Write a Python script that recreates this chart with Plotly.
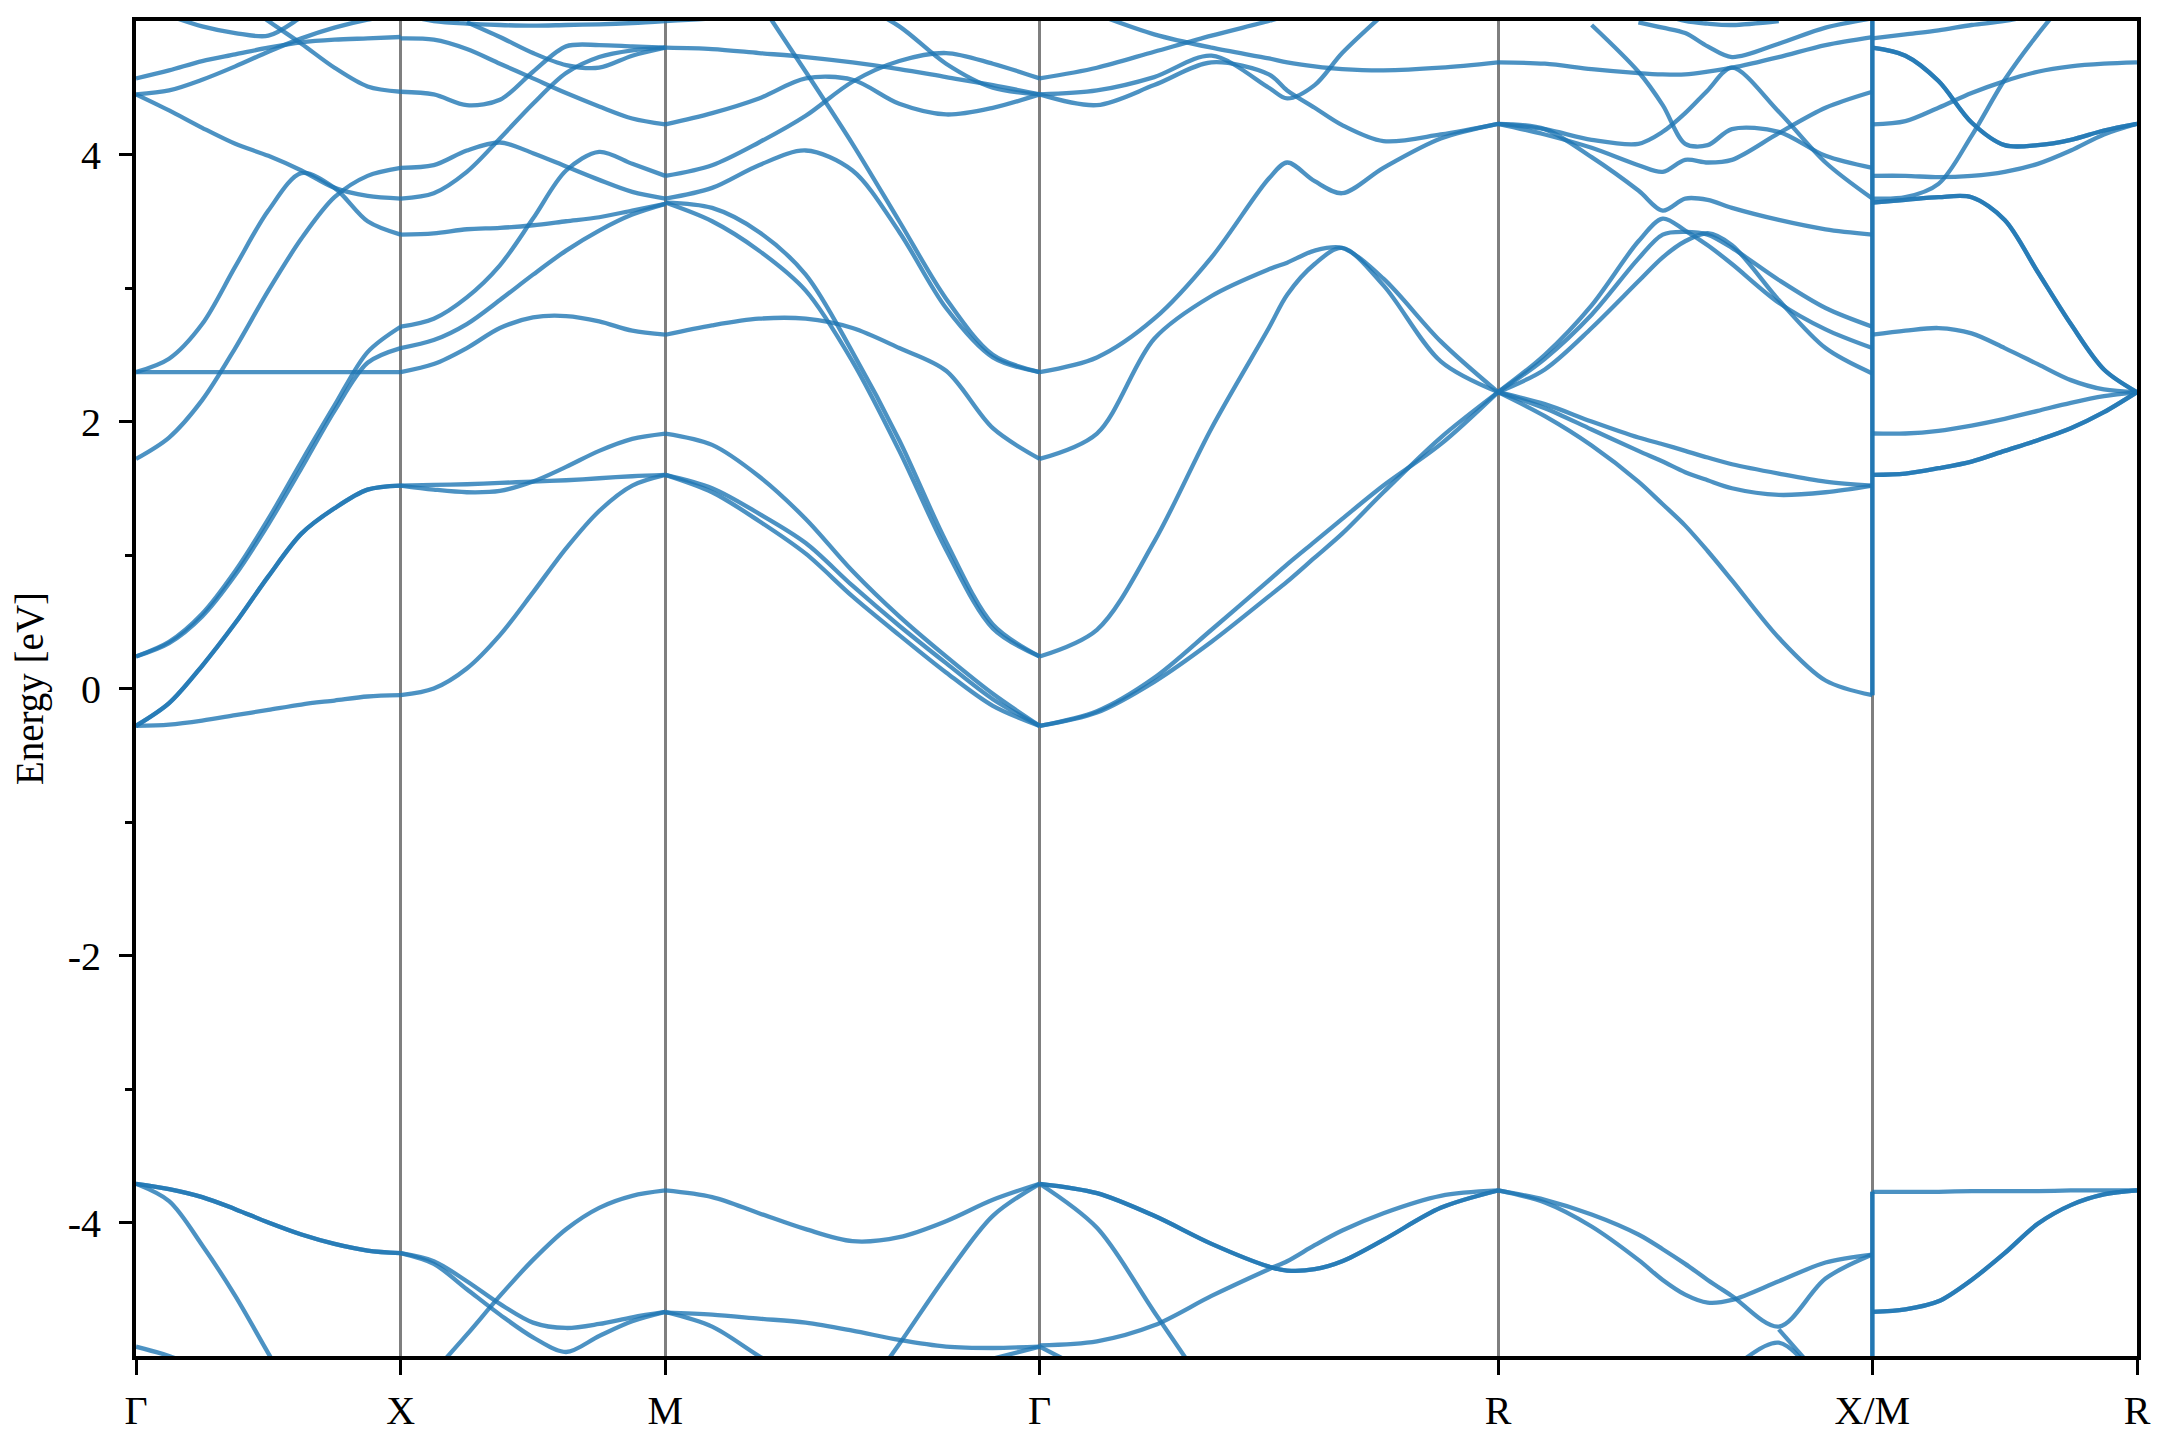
import numpy as np
import plotly.graph_objects as go

# ---------------- data ----------------
kpoint_labels = ["Γ", "X", "M", "Γ", "R", "X/M", "R"]
segment_lengths = [0.5, 0.5, 0.7071, 0.8660, 0.7071, 0.5]

frac9 = [0, 0.125, 0.25, 0.375, 0.5, 0.625, 0.75, 0.875, 1.0]
frac_GR = [0, 0.125, 0.25, 0.375, 0.5, 0.54, 0.6, 0.66, 0.75, 0.875, 1.0]
frac_RX = [0, 0.125, 0.25, 0.375, 0.44, 0.5, 0.56, 0.625, 0.75, 0.875, 1.0]

N = None

bands_GX = [
    [-0.28, -0.27, -0.24, -0.20, -0.16, -0.12, -0.09, -0.06, -0.05],
    [-0.28, -0.11, 0.17, 0.49, 0.84, 1.16, 1.35, 1.49, 1.52],
    [-0.28, -0.11, 0.17, 0.49, 0.84, 1.16, 1.35, 1.49, 1.52],
    [0.24, 0.35, 0.56, 0.88, 1.27, 1.70, 2.12, 2.52, 2.71],
    [0.24, 0.34, 0.54, 0.85, 1.23, 1.65, 2.08, 2.44, 2.55],
    [1.72, 1.88, 2.16, 2.55, 2.98, 3.37, 3.68, 3.84, 3.90],
    [2.37, 2.47, 2.73, 3.16, 3.58, 3.86, 3.75, 3.50, 3.40],
    [2.37, 2.37, 2.37, 2.37, 2.37, 2.37, 2.37, 2.37, 2.37],
    [4.45, 4.33, 4.20, 4.08, 3.99, 3.88, 3.75, 3.69, 3.67],
    [4.57, 4.63, 4.70, 4.75, 4.80, 4.84, 4.86, 4.87, 4.88],
    [4.45, 4.48, 4.56, 4.66, 4.77, 4.87, 4.95, 5.01, 5.05],
    [N, N, 5.45, 5.18, 5.00, 4.83, 4.65, 4.51, 4.47],
    [N, 5.04, 4.96, 4.91, 4.89, 5.03, 5.20, N, N],
    [-3.71, -3.75, -3.81, -3.90, -4.00, -4.09, -4.16, -4.21, -4.23],
    [-3.71, -3.75, -3.81, -3.90, -4.00, -4.09, -4.16, -4.21, -4.23],
    [-3.71, -3.84, -4.17, -4.55, -4.98, -5.40, N, N, N],
    [-4.93, -5.00, -5.10, N, N, N, N, N, N],
]

bands_XM = [
    [-0.05, 0.00, 0.15, 0.40, 0.72, 1.05, 1.33, 1.52, 1.60],
    [1.52, 1.525, 1.53, 1.54, 1.55, 1.56, 1.575, 1.59, 1.60],
    [1.52, 1.49, 1.47, 1.48, 1.55, 1.66, 1.78, 1.87, 1.91],
    [2.37, 2.43, 2.55, 2.70, 2.78, 2.79, 2.75, 2.68, 2.65],
    [2.55, 2.61, 2.73, 2.91, 3.10, 3.28, 3.43, 3.55, 3.63],
    [2.71, 2.77, 2.93, 3.17, 3.52, 3.88, 4.02, 3.93, 3.84],
    [3.40, 3.41, 3.44, 3.45, 3.47, 3.50, 3.53, 3.58, 3.63],
    [3.67, 3.71, 3.87, 4.12, 4.38, 4.61, 4.73, 4.78, 4.80],
    [3.90, 3.92, 4.03, 4.09, 4.01, 3.91, 3.81, 3.72, 3.67],
    [4.47, 4.45, 4.37, 4.41, 4.62, 4.81, 4.82, 4.81, 4.80],
    [4.87, 4.86, 4.79, 4.68, 4.57, 4.46, 4.36, 4.27, 4.225],
    [N, N, 4.99, 4.88, 4.76, 4.67, 4.65, 4.74, 4.80],
    [5.05, 5.00, 4.98, 4.97, 4.965, 4.97, 4.975, 4.985, 5.00],
    [-4.23, -4.29, -4.44, -4.61, -4.75, -4.79, -4.76, -4.71, -4.67],
    [-4.23, -4.31, -4.50, -4.69, -4.86, -4.97, -4.85, -4.74, -4.67],
    [N, -5.12, -4.84, -4.55, -4.28, -4.05, -3.89, -3.80, -3.76],
]

bands_MG = [
    [1.91, 1.825, 1.59, 1.27, 0.88, 0.54, 0.24, -0.04, -0.28],
    [1.60, 1.50, 1.31, 1.09, 0.77, 0.47, 0.19, -0.08, -0.28],
    [1.60, 1.47, 1.255, 1.01, 0.69, 0.40, 0.12, -0.13, -0.28],
    [2.65, 2.72, 2.77, 2.77, 2.70, 2.55, 2.38, 1.95, 1.72],
    [3.64, 3.60, 3.42, 3.10, 2.52, 1.86, 1.10, 0.48, 0.24],
    [3.64, 3.50, 3.28, 2.98, 2.45, 1.78, 1.04, 0.45, 0.24],
    [3.67, 3.75, 3.92, 4.03, 3.88, 3.42, 2.85, 2.48, 2.37],
    [N, N, 5.15, 4.62, 4.08, 3.50, 2.92, 2.50, 2.37],
    [3.84, 3.92, 4.09, 4.29, 4.545, 4.70, 4.76, 4.68, 4.57],
    [4.225, 4.31, 4.42, 4.57, 4.56, 4.38, 4.30, 4.35, 4.45],
    [4.80, 4.79, 4.76, 4.73, 4.69, 4.64, 4.58, 4.52, 4.45],
    [N, N, N, N, 5.15, 4.96, 4.68, 4.50, 4.45],
    [5.00, 5.02, 5.06, N, N, N, N, N, N],
    [-3.76, -3.81, -3.93, -4.05, -4.14, -4.11, -3.99, -3.83, -3.71],
    [N, N, N, N, -5.40, -4.91, -4.40, -3.95, -3.71],
    [-4.675, -4.69, -4.72, -4.75, -4.81, -4.88, -4.93, -4.94, -4.93],
    [-4.67, -4.78, -5.00, -5.20, N, N, N, N, N],
    [N, N, N, N, N, N, N, -5.02, -4.93],
]

bands_GR = [
    [-0.28, -0.18, 0.05, 0.35, 0.69, 0.80, 0.98, 1.16, 1.47, 1.88, 2.22],
    [-0.28, -0.17, 0.08, 0.44, 0.81, 0.93, 1.10, 1.27, 1.52, 1.83, 2.22],
    [0.24, 0.44, 1.10, 1.95, 2.70, 2.95, 3.18, 3.30, 3.02, 2.45, 2.22],
    [1.72, 1.91, 2.62, 2.94, 3.14, 3.19, 3.28, 3.30, 3.07, 2.60, 2.22],
    [2.37, 2.48, 2.77, 3.23, 3.82, 3.94, 3.80, 3.71, 3.90, 4.12, 4.23],
    [4.57, 4.65, 4.77, 4.89, 5.00, 5.04, N, N, N, N, N],
    [4.45, 4.48, 4.58, 4.74, 4.50, 4.42, 4.52, 4.76, 5.05, N, N],
    [4.45, 4.37, 4.52, 4.69, 4.60, 4.48, 4.35, 4.22, 4.10, 4.15, 4.23],
    [N, 5.05, 4.90, 4.80, 4.72, 4.69, 4.66, 4.64, 4.63, 4.65, 4.69],
    [-3.71, -3.78, -3.95, -4.16, -4.33, -4.36, -4.35, -4.29, -4.13, -3.89, -3.76],
    [-3.71, -3.78, -3.95, -4.16, -4.33, -4.36, -4.35, -4.29, -4.13, -3.89, -3.76],
    [-4.92, -4.89, -4.77, -4.55, -4.35, -4.29, -4.17, -4.06, -3.93, -3.80, -3.76],
    [-3.71, -4.04, -4.67, -5.30, N, N, N, N, N, N, N],
    [-4.93, -5.15, N, N, N, N, N, N, N, N, N],
]

bands_RX = [
    [2.22, 2.04, 1.82, 1.55, 1.38, 1.22, 1.03, 0.81, 0.38, 0.06, -0.05],
    [2.22, 2.10, 1.94, 1.78, 1.70, 1.62, 1.56, 1.50, 1.45, 1.47, 1.52],
    [2.22, 2.13, 2.00, 1.88, 1.83, 1.78, 1.73, 1.68, 1.61, 1.55, 1.52],
    [2.22, 2.47, 2.80, 3.22, 3.40, 3.42, 3.40, 3.30, 3.06, 2.85, 2.71],
    [2.22, 2.50, 2.87, 3.35, 3.52, 3.43, 3.32, 3.18, 2.89, 2.69, 2.55],
    [2.22, 2.39, 2.70, 3.05, 3.23, 3.35, 3.41, 3.32, 2.91, 2.55, 2.36],
    [4.23, 4.19, 3.98, 3.73, 3.58, 3.67, 3.66, 3.60, 3.51, 3.44, 3.40],
    [4.23, 4.19, 4.11, 4.08, 4.17, 4.31, 4.48, 4.65, 4.32, 3.94, 3.67],
    [4.23, 4.15, 4.05, 3.92, 3.87, 3.96, 3.94, 3.96, 4.16, 4.35, 4.47],
    [N, N, 4.97, 4.62, 4.37, 4.08, 4.07, 4.19, 4.17, 3.99, 3.90],
    [N, N, N, 4.99, 4.95, 4.91, 4.81, 4.73, 4.83, 4.95, 5.02],
    [4.69, 4.68, 4.64, 4.61, 4.60, 4.60, 4.62, 4.65, 4.73, 4.82, 4.88],
    [N, N, N, N, 5.05, 5.00, 4.98, 4.97, 5.00, N, N],
    [-3.76, -3.85, -4.03, -4.28, -4.43, -4.54, -4.60, -4.58, -4.44, -4.30, -4.24],
    [-3.76, -3.83, -3.94, -4.09, -4.20, -4.31, -4.43, -4.55, -4.78, -4.42, -4.24],
    [N, N, N, N, N, N, N, -5.10, -4.90, -5.25, N],
    [N, N, N, N, N, N, N, N, -4.80, -5.20, N],
]

bands_MR = [
    [1.60, 1.61, 1.65, 1.70, 1.78, 1.86, 1.95, 2.07, 2.22],
    [1.60, 1.61, 1.65, 1.70, 1.78, 1.86, 1.95, 2.07, 2.22],
    [1.91, 1.91, 1.93, 1.97, 2.02, 2.08, 2.14, 2.19, 2.22],
    [2.65, 2.68, 2.70, 2.66, 2.55, 2.43, 2.31, 2.24, 2.22],
    [3.64, 3.66, 3.68, 3.68, 3.51, 3.12, 2.73, 2.39, 2.22],
    [3.64, 3.66, 3.68, 3.68, 3.51, 3.12, 2.73, 2.39, 2.22],
    [3.67, 3.68, 3.78, 4.14, 4.56, 4.90, 5.20, N, N],
    [3.84, 3.84, 3.83, 3.84, 3.87, 3.93, 4.03, 4.15, 4.23],
    [4.80, 4.74, 4.55, 4.24, 4.07, 4.07, 4.11, 4.18, 4.23],
    [4.80, 4.74, 4.55, 4.24, 4.07, 4.07, 4.11, 4.18, 4.23],
    [4.225, 4.25, 4.35, 4.46, 4.55, 4.62, 4.66, 4.68, 4.69],
    [4.87, 4.90, 4.93, 4.97, 5.00, 5.05, N, N, N],
    [-3.77, -3.77, -3.77, -3.765, -3.765, -3.765, -3.76, -3.76, -3.76],
    [-4.67, -4.65, -4.59, -4.43, -4.23, -4.01, -3.87, -3.79, -3.76],
    [-4.67, -4.65, -4.59, -4.43, -4.23, -4.01, -3.87, -3.79, -3.76],
]

# vertical jumps of the bands at the X|M discontinuity
jump_XM = [[-0.05, 5.10], [-5.30, -3.77]]

y_tickvals = [-4, -2, 0, 2, 4]
y_ticktext = ["-4", "-2", "0", "2", "4"]
y_minor = [-3, -1, 1, 3]

# ---------------- figure ----------------
band_color = "rgba(31,119,180,0.80)"
kstarts = np.concatenate([[0.0], np.cumsum(segment_lengths)])

segments = [
    (frac9, bands_GX),
    (frac9, bands_XM),
    (frac9, bands_MG),
    (frac_GR, bands_GR),
    (frac_RX, bands_RX),
    (frac9, bands_MR),
]

fig = go.Figure()
for i, (fr, bands) in enumerate(segments):
    xs = (kstarts[i] + np.array(fr) * segment_lengths[i]).tolist()
    for b in bands:
        fig.add_trace(go.Scatter(
            x=xs, y=b, mode="lines",
            line=dict(color=band_color, width=4.3, shape="spline", smoothing=0.9),
            connectgaps=False, hoverinfo="skip", showlegend=False))

for seg in jump_XM:
    for _ in range(2):
        fig.add_trace(go.Scatter(
            x=[kstarts[5], kstarts[5]], y=seg, mode="lines",
            line=dict(color=band_color, width=4.3),
            hoverinfo="skip", showlegend=False))

serif = "Liberation Serif, Times New Roman, serif"
# the page body adds an 8 px offset; margins compensate for it
fig.update_layout(
    width=2160, height=1440,
    margin=dict(l=128, r=31, t=13, b=92),
    paper_bgcolor="white", plot_bgcolor="white",
    font=dict(family=serif, size=40, color="black"),
)
fig.update_xaxes(
    range=[0, kstarts[-1]], tickmode="array", tickvals=kstarts.tolist(), ticktext=kpoint_labels,
    showgrid=True, gridcolor="rgba(0,0,0,0.5)", gridwidth=2.5,
    showline=True, linecolor="black", linewidth=4, mirror=True,
    ticks="outside", ticklen=15, tickwidth=3, tickcolor="black",
    zeroline=False, ticklabelstandoff=1, automargin=False,
    tickfont=dict(family=serif, size=40, color="black"),
)
fig.update_yaxes(
    range=[-5, 5], tickmode="array", tickvals=y_tickvals, ticktext=y_ticktext,
    showgrid=False, zeroline=False,
    showline=True, linecolor="black", linewidth=4, mirror=True,
    ticks="outside", ticklen=13, tickwidth=3, tickcolor="black",
    minor=dict(ticks="outside", ticklen=7, tickwidth=2.5, tickcolor="black", tickvals=y_minor, showgrid=False),
    ticklabelstandoff=10, automargin=False,
    tickfont=dict(family=serif, size=40, color="black"),
    title=dict(text="Energy [eV]", standoff=37, font=dict(family=serif, size=39, color="black")),
)

fig.write_html("out.html")
